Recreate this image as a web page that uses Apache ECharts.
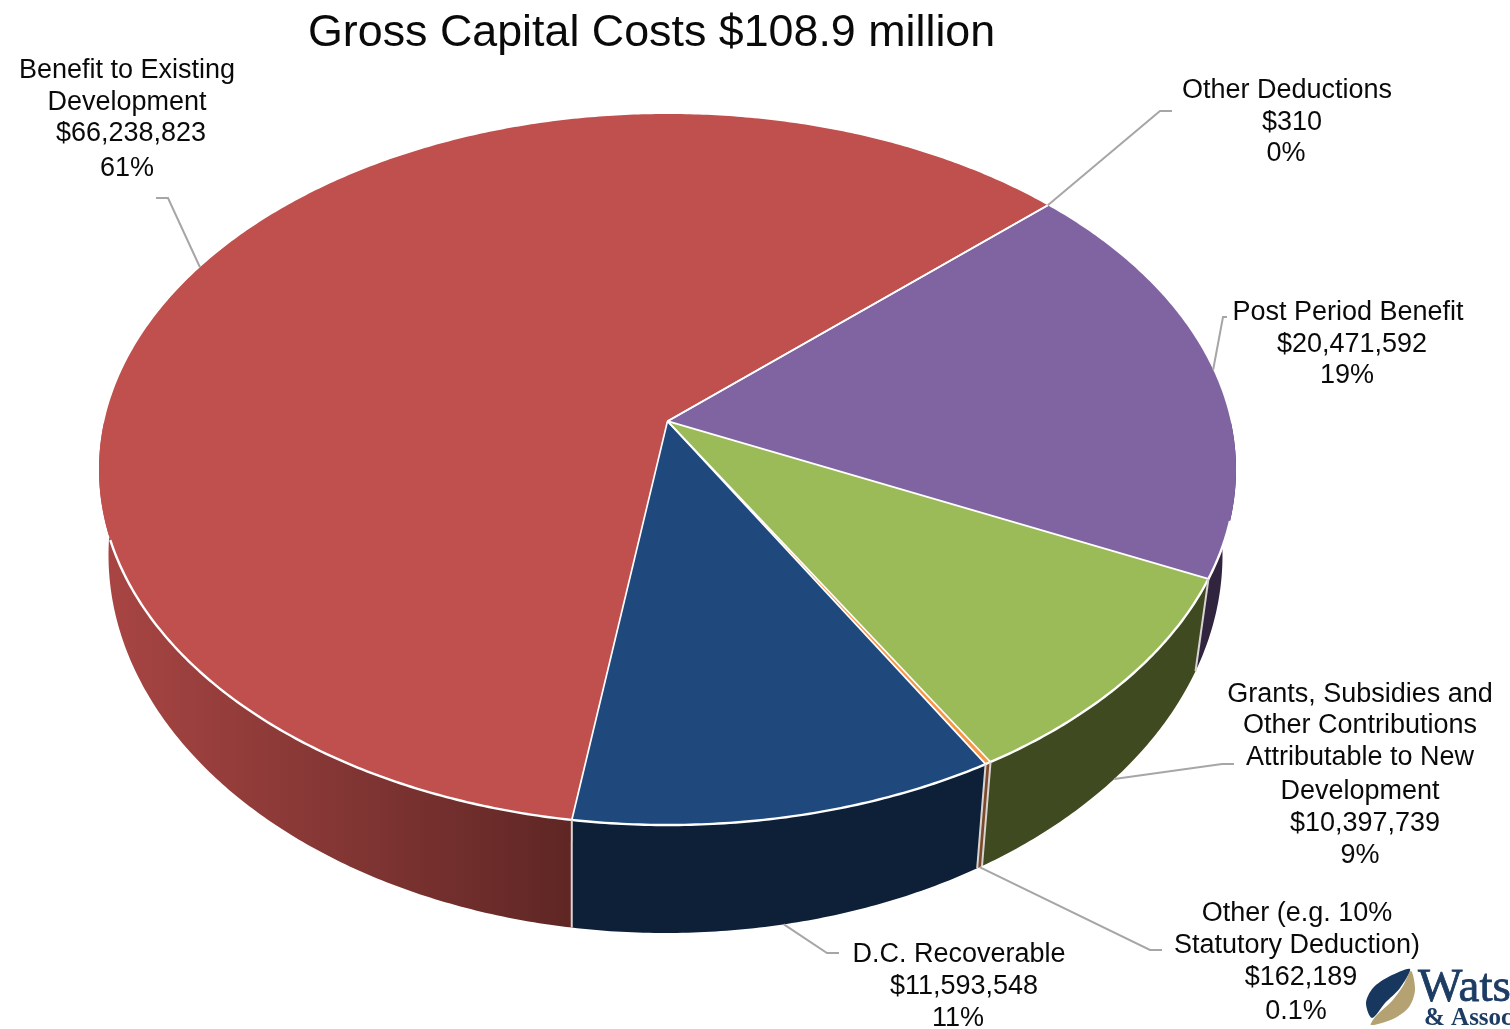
<!DOCTYPE html>
<html>
<head>
<meta charset="utf-8">
<title>Gross Capital Costs</title>
<style>
html,body{margin:0;padding:0;background:#fff}
#chart{width:1510px;height:1029px}
</style>
<script src="https://cdn.jsdelivr.net/npm/echarts@6/dist/echarts.min.js"></script>
</head>
<body>
<div id="chart"></div>
<script>
// Slices listed clockwise from the first boundary.
const categories = [
  'Other Deductions',
  'Post Period Benefit',
  'Grants, Subsidies and\nOther Contributions\nAttributable to New\nDevelopment',
  'Other (e.g. 10%\nStatutory Deduction)',
  'D.C. Recoverable',
  'Benefit to Existing\nDevelopment'
];
const amounts = [310, 20471592, 10397739, 162189, 11593548, 66238823];
const percentLabels = ['0%', '19%', '9%', '0.1%', '11%', '61%'];
const chartTitle = 'Gross Capital Costs $108.9 million';

// Slice colours: top face and side wall.
const faceColors = ['#4BACC6', '#8064A2', '#9BBB59', '#F79646', '#1F497D', '#C0504D'];
const wallColors = ['#1f4f5c', '#30243F', '#3F4A20', '#7A4A2A', '#0D2038', null];

// Projection of the disc: two ellipses and a perspective shift of the centre.
const TOP_DISC = {cx: 667.5, cy: 469.5, a: 568.5, b: 355.5};
const BOTTOM_DISC = {cx: 665.5, cy: 555, a: 557, b: 378};
const TILT = -0.136;
const START_ANGLE = 47.5;
const WALL_FROM = 90, WALL_TO = 270;
const RIM_FROM = 106, RIM_TO = 251;

// Label placement: centre x and y of each text line, then the leader's elbow points.
const labelLayout = [
  {xs: [1287, 1292, 1286], ys: [91, 123, 154], leader: [[1160, 111], [1172, 111]]},
  {xs: [1348, 1352, 1347], ys: [313, 345, 376], leader: [[1223, 317], [1227, 317]]},
  {xs: [1360, 1360, 1360, 1360, 1365, 1360], ys: [695, 726, 758, 792, 824, 856], leader: [[1222, 764], [1234, 764]]},
  {xs: [1297, 1297, 1301, 1296], ys: [914, 946, 978, 1012], leader: [[1150, 950], [1162, 950]]},
  {xs: [959, 964, 958], ys: [955, 987, 1019], leader: [[827, 953], [839, 953]]},
  {xs: [127, 127, 131, 127], ys: [71, 103, 134, 169], leader: [[168, 198], [156, 198]]}
];

const total = amounts.reduce((s, v) => s + v, 0);
const bounds = [START_ANGLE];
amounts.forEach(v => bounds.push(bounds[bounds.length - 1] + v / total * 360));

// Angle is measured clockwise from the top, r is 0 at the centre and 1 on the rim.
function project(deg, r, disc) {
  const th = deg * Math.PI / 180;
  const x = r * Math.sin(th), y = -r * Math.cos(th);
  const w = 1 + TILT * y;
  return [
    disc.cx + disc.a * x * Math.sqrt(1 - TILT * TILT) / w,
    disc.cy + disc.b * (y + TILT) / w
  ];
}
function arc(from, to, disc) {
  const pts = [];
  const n = Math.max(1, Math.ceil((to - from) / 0.5));
  for (let i = 0; i <= n; i++) pts.push(project(from + (to - from) * i / n, 1, disc));
  return pts;
}
// Visible part of a slice's side wall, in degrees; shifts cover slices past 360.
function wallRange(from, to) {
  for (const shift of [0, -360]) {
    const a = Math.max(from + shift, WALL_FROM), b = Math.min(to + shift, WALL_TO);
    if (b > a) return [a, b];
  }
  return null;
}

const redWall = new echarts.graphic.LinearGradient(107, 0, 575, 0, [
  {offset: 0, color: '#A84543'},
  {offset: 0.5, color: '#833634'},
  {offset: 1, color: '#5E2624'}
], true);

const rows = amounts.map((v, i) => ({name: categories[i], value: [v, i]}));

function renderWall(params) {
  const i = params.dataIndex;
  const range = wallRange(bounds[i], bounds[i + 1]);
  if (!range) return {type: 'group', children: []};
  const pts = arc(range[0], range[1], TOP_DISC).concat(arc(range[0], range[1], BOTTOM_DISC).reverse());
  return {type: 'polygon', shape: {points: pts}, style: {fill: wallColors[i] || redWall}, silent: true};
}

function renderFace(params) {
  const i = params.dataIndex;
  const pts = [project(0, 0, TOP_DISC)].concat(arc(bounds[i], bounds[i + 1], TOP_DISC));
  return {type: 'polygon', shape: {points: pts}, style: {fill: faceColors[i]}, silent: true};
}

function whiteLine(points, width) {
  return {type: 'polyline', shape: {points: points},
    style: {stroke: '#FFFFFF', lineWidth: width, fill: null, lineJoin: 'round'}, silent: true};
}

function renderEdges(params) {
  const i = params.dataIndex;
  const children = [];
  const deg = bounds[i + 1];
  const wrapped = deg % 360;
  children.push(whiteLine([project(0, 0, TOP_DISC), project(deg, 1, TOP_DISC)], 1.7));
  if (wrapped > WALL_FROM && wrapped < WALL_TO) {
    const a = project(deg, 1, TOP_DISC), b = project(deg, 1, BOTTOM_DISC);
    children.push({type: 'line',
      shape: {x1: a[0], y1: a[1], x2: b[0], y2: b[1]},
      style: {stroke: '#D9D4D2', lineWidth: 2}, silent: true});
  }
  if (i === 0) children.push(whiteLine(arc(RIM_FROM, RIM_TO, TOP_DISC), 2.4));
  return {type: 'group', children: children};
}

function renderLabel(params) {
  const i = params.dataIndex;
  const layout = labelLayout[i];
  const lines = categories[i].split('\n').concat([
    '$' + amounts[i].toLocaleString('en-US'),
    percentLabels[i]
  ]);
  const mid = (bounds[i] + bounds[i + 1]) / 2;
  const wrapped = mid % 360;
  const onWall = wrapped > WALL_FROM && wrapped < WALL_TO;
  const anchor = project(mid, 1, onWall ? BOTTOM_DISC : TOP_DISC);
  const children = [{
    type: 'polyline',
    shape: {points: [anchor].concat(layout.leader)},
    style: {stroke: '#A6A6A6', lineWidth: 2, fill: null},
    silent: true
  }];
  lines.forEach((line, k) => children.push({
    type: 'text',
    style: {
      text: line, x: layout.xs[k], y: layout.ys[k],
      align: 'center', verticalAlign: 'middle',
      font: '27px "Liberation Sans", Arial, sans-serif', fill: '#0A0A0A'
    },
    silent: true
  }));
  return {type: 'group', children: children};
}

function customSeries(renderItem, z) {
  return {type: 'custom', coordinateSystem: 'none', data: rows, renderItem: renderItem, z: z, silent: true, animation: false};
}

const chart = echarts.init(document.getElementById('chart'), null, {renderer: 'canvas'});
chart.setOption({
  animation: false,
  backgroundColor: '#FFFFFF',
  title: {
    text: chartTitle, left: 303, top: 6,
    textStyle: {fontFamily: '"Liberation Sans", Arial, sans-serif', fontSize: 44.8, fontWeight: 'normal', color: '#0A0A0A'}
  },
  series: [
    customSeries(renderWall, 1),
    customSeries(renderFace, 2),
    customSeries(renderEdges, 3),
    customSeries(renderLabel, 4)
  ],
  graphic: {
    elements: [
      // Company mark in the corner: feather and wordmark.
      {type: 'polygon', z: 10, silent: true,
        shape: {smooth: 0.3, points: [[1410, 969], [1390, 976], [1373, 988], [1366, 1003], [1372, 1018], [1385, 1003], [1400, 988]]},
        style: {fill: '#17375E'}},
      {type: 'polygon', z: 10, silent: true,
        shape: {smooth: 0.3, points: [[1411, 971], [1415, 990], [1409, 1007], [1393, 1019], [1371, 1025], [1376, 1016], [1392, 1001], [1403, 986]]},
        style: {fill: '#B5A272'}},
      {type: 'text', z: 10, silent: true,
        style: {text: 'Watson', x: 1418, y: 1012, verticalAlign: 'bottom', align: 'left',
          font: '47px "Liberation Serif", serif', fill: '#1C3C63', stroke: '#1C3C63', lineWidth: 0.8}},
      {type: 'text', z: 10, silent: true,
        style: {text: '& Associates', x: 1424, y: 1031, verticalAlign: 'bottom', align: 'left',
          font: 'bold 25px "Liberation Serif", serif', fill: '#1C3C63'}}
    ]
  }
});
</script>
</body>
</html>
